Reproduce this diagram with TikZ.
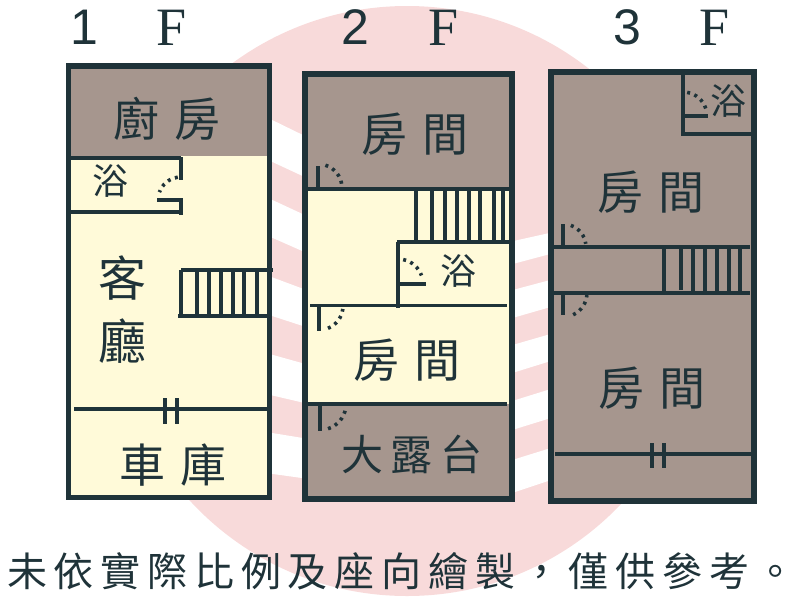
\documentclass[tikz,border=0pt]{standalone}
\usepackage{fontspec}
\newfontfamily\cjkfont{Noto Sans CJK TC}
\newfontfamily\cjkwide[LetterSpace=33]{Noto Sans CJK TC}
\newfontfamily\cjkmid[LetterSpace=19]{Noto Sans CJK TC}
\newfontfamily\cjknote[LetterSpace=17]{Noto Sans CJK TC}
\newfontfamily\digitfont{Liberation Sans}
\newfontfamily\letterfont{Liberation Serif}
\definecolor{wallcolor}{HTML}{1F3339}
\definecolor{pinkcolor}{HTML}{F8DADA}
\definecolor{browncolor}{HTML}{A6968E}
\definecolor{creamcolor}{HTML}{FFFAD9}
\tikzset{
  outerwall/.style={draw=wallcolor, line width=5.7pt},
  wall/.style={draw=wallcolor, line width=3.5pt},
  thickwall/.style={draw=wallcolor, line width=4.2pt},
  bars/.style={draw=wallcolor, line width=4.8pt},
  swing/.style={draw=wallcolor, line width=3.6pt, dash pattern=on 3pt off 4.6pt},
  textlabel/.style={text=wallcolor, inner sep=0pt},
  roomlabel/.style={textlabel, font=\cjkwide\fontsize{46}{46}\selectfont},
  bathlabel/.style={textlabel, font=\cjkfont\fontsize{36}{36}\selectfont},
  numberlabel/.style={textlabel, font=\digitfont\fontsize{50}{50}\selectfont},
  floorlabel/.style={textlabel, font=\letterfont\fontsize{54}{54}\selectfont}
}
\begin{document}
\begin{tikzpicture}[x=1pt, y=-1pt]
\useasboundingbox (0,0) rectangle (800,600);
\fill [color=pinkcolor] (407,301) circle [radius=295];
\fill [color=white] (266,117) -- (309,138) -- (309,179) -- (266,159) -- cycle;
\fill [color=white] (266,197) -- (309,217) -- (309,254) -- (266,235) -- cycle;
\fill [color=white] (266,275) -- (309,291) -- (309,328) -- (266,314) -- cycle;
\fill [color=white] (266,353) -- (309,365) -- (309,404) -- (266,394) -- cycle;
\fill [color=white] (266,432) -- (309,439) -- (309,479) -- (266,473) -- cycle;
\fill [color=white] (509,242) -- (554,232) -- (554,253) -- (509,265) -- cycle;
\fill [color=white] (509,291) -- (554,279) -- (554,306) -- (509,319) -- cycle;
\fill [color=white] (509,346) -- (554,333) -- (554,360) -- (509,374) -- cycle;
\fill [color=white] (509,402) -- (554,388) -- (554,417) -- (509,431) -- cycle;
\fill [color=white] (509,461) -- (554,447) -- (554,479) -- (509,494) -- cycle;
\fill [color=browncolor] (68.5,66) rectangle (269.5,156);
\fill [color=creamcolor] (68.5,156) rectangle (269.5,497.5);
\fill [color=browncolor] (305,74) rectangle (512,189);
\fill [color=creamcolor] (305,189) rectangle (512,404);
\fill [color=browncolor] (305,404) rectangle (512,499);
\fill [color=browncolor] (551,72) rectangle (754,501);
\draw [wall] (69,158) -- (181,158);
\draw [wall] (69,212) -- (181,212);
\draw [thickwall] (181,157) -- (181,180);
\draw [thickwall] (181,198) -- (181,215);
\draw [wall] (157,200) -- (181,200);
\draw [swing] (181,200) ++(-98:23) arc [start angle=-98, end angle=-160, radius=23];
\draw [wall] (181,270) -- (273,270);
\draw [wall] (178,316) -- (269,316);
\draw [thickwall] (181,270) -- (181,316);
\draw [wall] (197,270) -- (197,316);
\draw [wall] (209,270) -- (209,316);
\draw [wall] (221,270) -- (221,316);
\draw [wall] (233,270) -- (233,316);
\draw [wall] (244,270) -- (244,316);
\draw [wall] (257,270) -- (257,316);
\draw [wall] (74,409) -- (269,409);
\draw [bars] (165,398) -- (165,424);
\draw [bars] (177,398) -- (177,424);
\draw [outerwall] (68.5,66) rectangle (269.5,497.5);
\draw [wall] (305,189) -- (512,189);
\draw [wall] (318,166) -- (318,188);
\draw [swing] (318,188) ++(-72:24) arc [start angle=-72, end angle=-5, radius=24];
\draw [thickwall] (416,189) -- (416,241);
\draw [wall] (432,189) -- (432,241);
\draw [wall] (445,189) -- (445,241);
\draw [wall] (457,189) -- (457,241);
\draw [wall] (469,189) -- (469,241);
\draw [wall] (480,189) -- (480,241);
\draw [wall] (494,189) -- (494,241);
\draw [wall] (503,189) -- (503,241);
\draw [wall] (397,242) -- (512,242);
\draw [thickwall] (398,242) -- (398,308);
\draw [wall] (398,284) -- (426,284);
\draw [swing] (398,284) ++(-78:25) arc [start angle=-78, end angle=-20, radius=25];
\draw [wall] (310,305.5) -- (507,305.5);
\draw [wall] (319,306) -- (319,331);
\draw [swing] (319,306) ++(68:24) arc [start angle=68, end angle=7, radius=24];
\draw [wall] (305,404) -- (507,404);
\draw [wall] (320,404) -- (320,431);
\draw [swing] (320,404) ++(72:26) arc [start angle=72, end angle=10, radius=26];
\draw [outerwall] (305,74) rectangle (512,499);
\draw [thickwall] (683,72) -- (683,136);
\draw [thickwall] (681,134) -- (754,134);
\draw [wall] (683,116) -- (708,116);
\draw [swing] (683,116) ++(-80:24) arc [start angle=-80, end angle=-18, radius=24];
\draw [wall] (551,247) -- (750,247);
\draw [wall] (551,293) -- (750,293);
\draw [wall] (563,224) -- (563,249);
\draw [swing] (563,247) ++(-70:23) arc [start angle=-70, end angle=-8, radius=23];
\draw [wall] (563,291) -- (563,315);
\draw [swing] (563,293) ++(65:24) arc [start angle=65, end angle=5, radius=24];
\draw [thickwall] (664,247) -- (664,293);
\draw [thickwall] (681,247) -- (681,290);
\draw [wall] (693,247) -- (693,293);
\draw [wall] (705,247) -- (705,293);
\draw [wall] (717,247) -- (717,293);
\draw [wall] (729,247) -- (729,293);
\draw [wall] (740,247) -- (740,293);
\draw [wall] (555,454) -- (751,454);
\draw [bars] (652,443) -- (652,468);
\draw [bars] (664,443) -- (664,468);
\draw [outerwall] (551,72) rectangle (754,501);
\node (num1) [numberlabel, at = {(84,27)}] {1};
\node (f1) [floorlabel, at = {(172,28)}] {F};
\node (num2) [numberlabel, at = {(355,27)}] {2};
\node (f2) [floorlabel, at = {(444,28)}] {F};
\node (num3) [numberlabel, at = {(627,27)}] {3};
\node (f3) [floorlabel, at = {(715,28)}] {F};
\node (kitchen) [roomlabel, at = {(167,119)}] {廚房};
\node (bath1) [bathlabel, at = {(110,181)}] {浴};
\node (living) [textlabel, align=center, font=\cjkfont\fontsize{48}{48}\selectfont, at = {(122,310)}] {客\\[15pt]廳};
\node (garage) [roomlabel, at = {(173,465)}] {車庫};
\node (room2a) [roomlabel, at = {(415,134)}] {房間};
\node (bath2) [bathlabel, at = {(458,271)}] {浴};
\node (room2b) [roomlabel, at = {(407,360)}] {房間};
\node (terrace) [textlabel, font=\cjkmid\fontsize{42}{42}\selectfont, at = {(412,454)}] {大露台};
\node (bath3) [bathlabel, at = {(728,101)}] {浴};
\node (room3a) [roomlabel, at = {(651,192)}] {房間};
\node (room3b) [roomlabel, at = {(652,388)}] {房間};
\node (note) [textlabel, font=\cjknote\fontsize{40}{40}\selectfont, at = {(401.5,571)}] {未依實際比例及座向繪製，僅供參考。};
\end{tikzpicture}
\end{document}
